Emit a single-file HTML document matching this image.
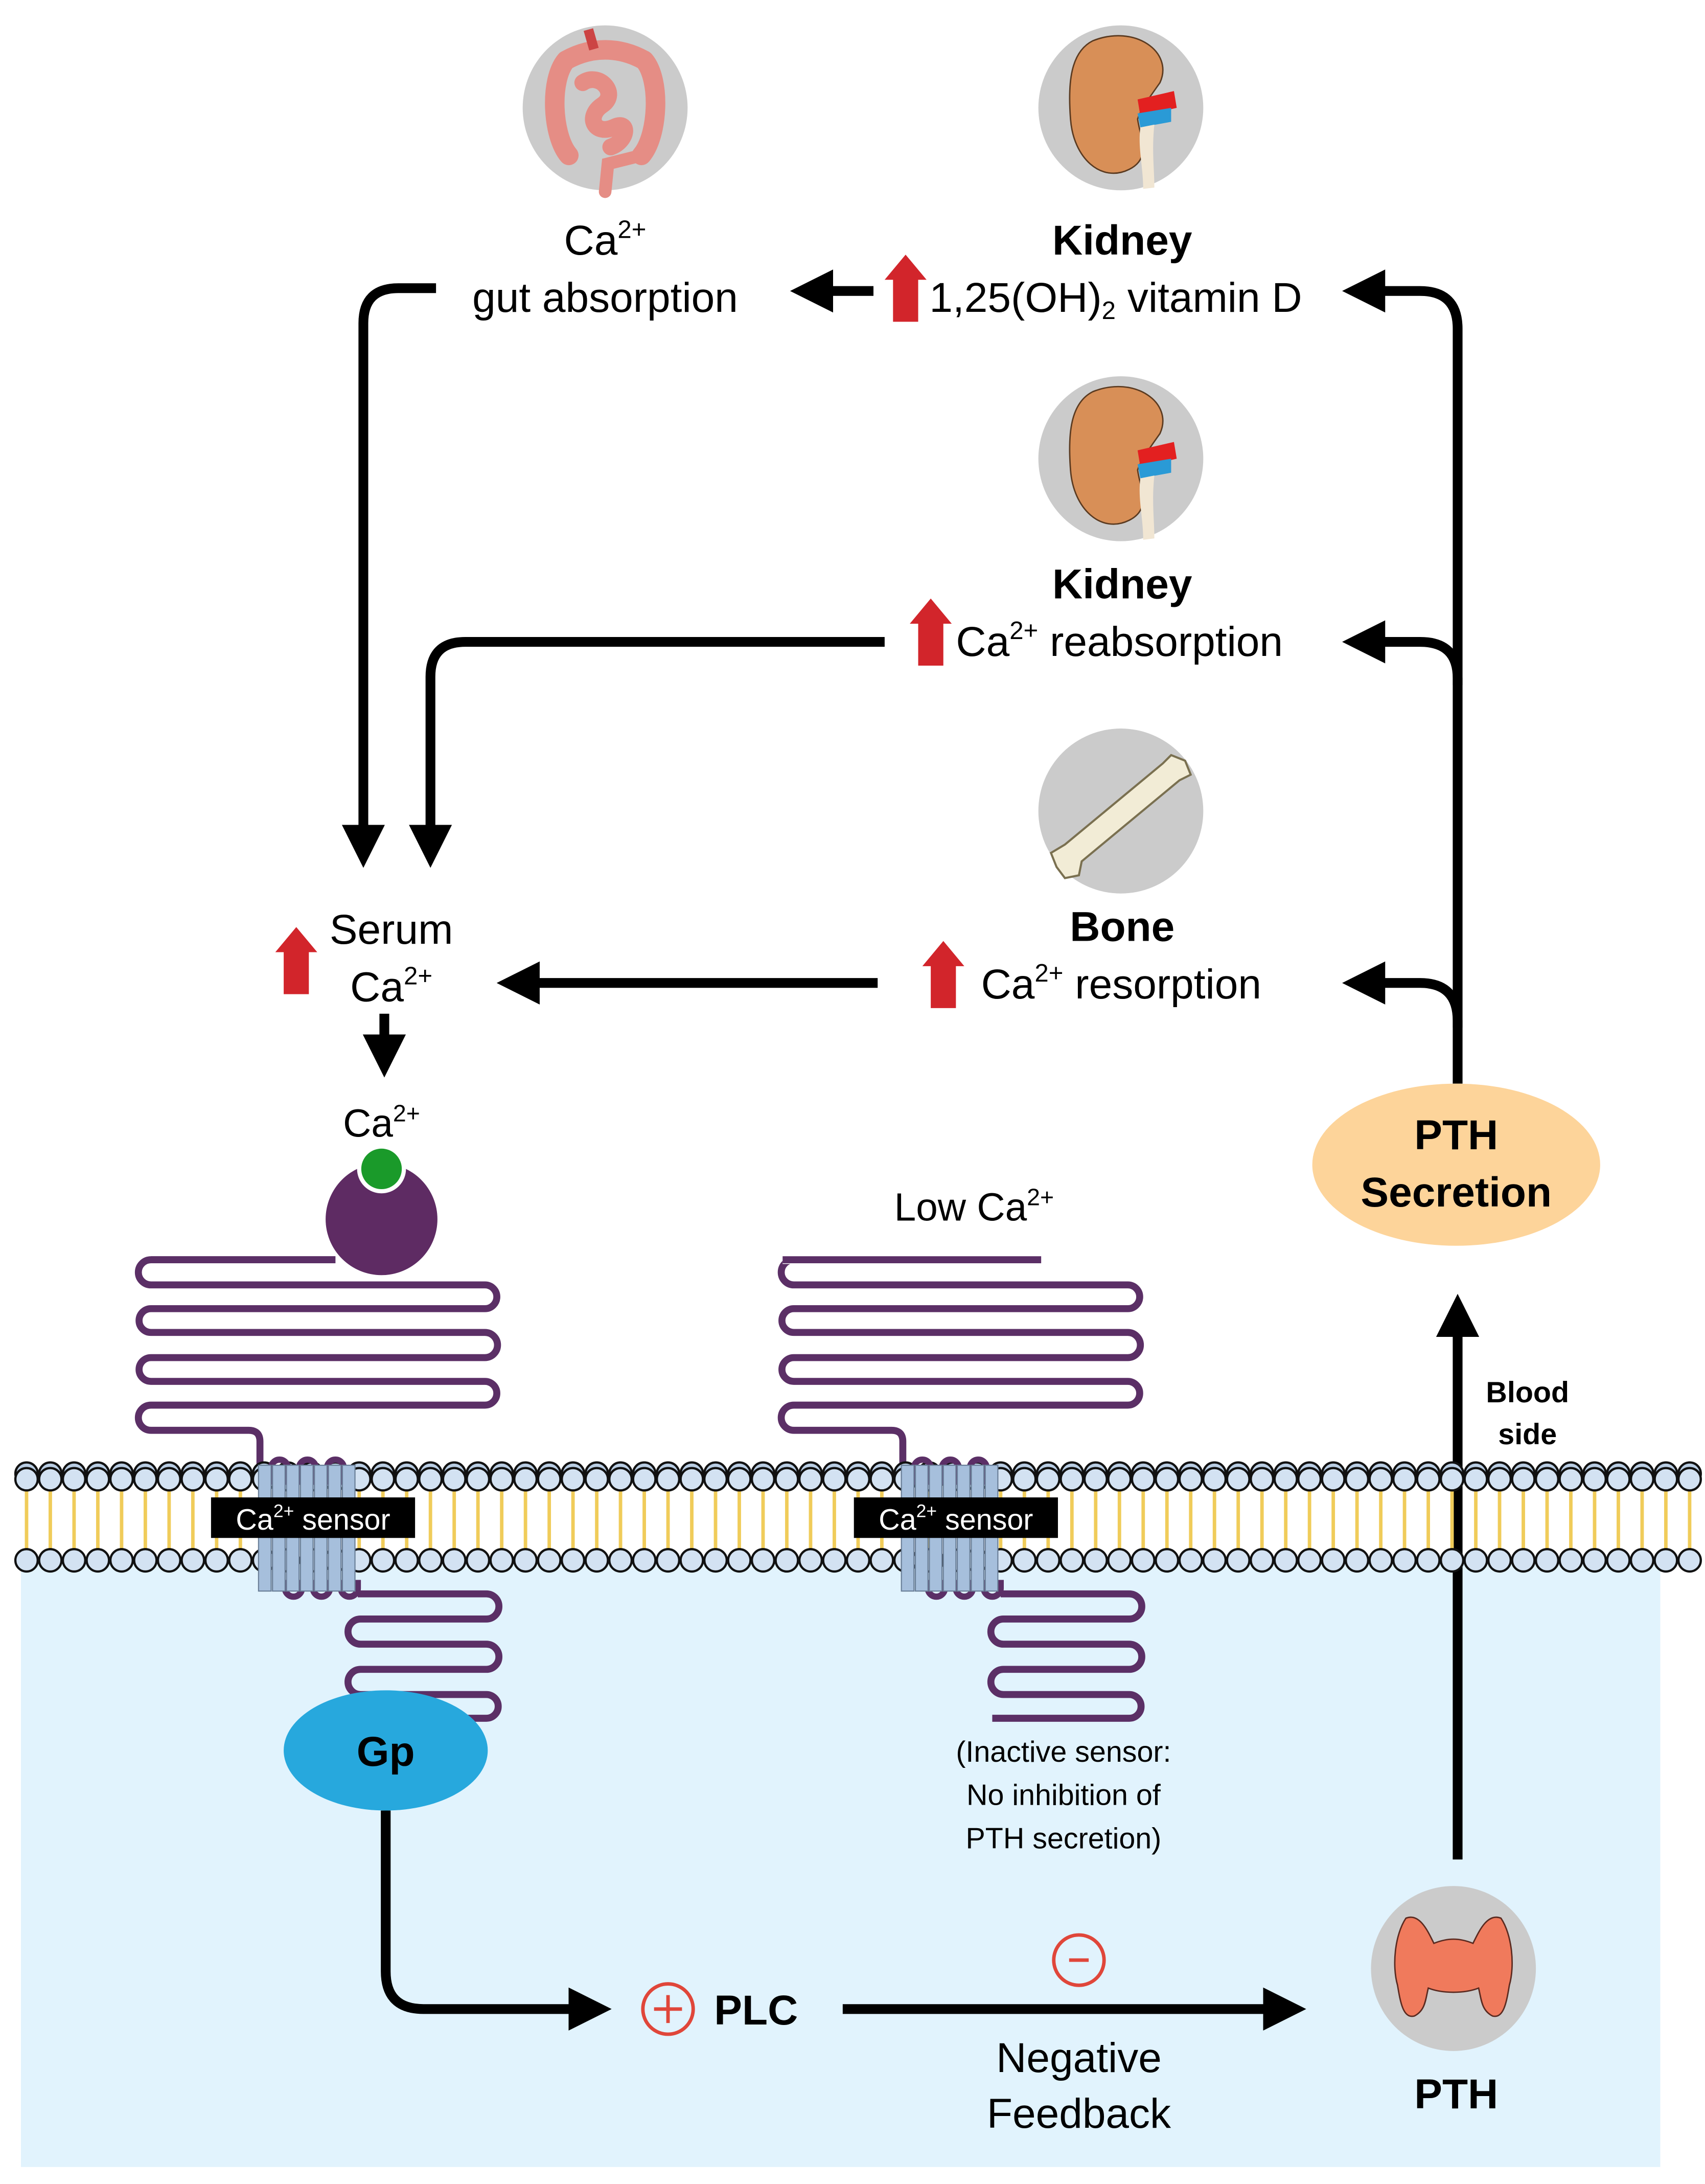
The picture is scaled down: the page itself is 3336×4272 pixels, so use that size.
<!DOCTYPE html>
<html><head><meta charset="utf-8"><style>
html,body{margin:0;padding:0;background:#fff}
svg{display:block}
text{font-family:"Liberation Sans",Arial,sans-serif}
</style></head><body>
<svg id="s" width="3336" height="4272" viewBox="0 0 1220 1562" xmlns="http://www.w3.org/2000/svg">
<defs>
<marker id="ah" viewBox="0 0 10 10" refX="2" refY="5" markerWidth="4.4" markerHeight="4.4" orient="auto" markerUnits="strokeWidth"><path d="M0,0 L10,5 L0,10 z" fill="#000"/></marker>
<g id="redup"><path d="M-9,0 V-30 H-15 L0,-48 L15,-30 H9 V0 Z" fill="#d2252b"/></g>
<g id="kidney">
<circle r="59" fill="#cbcbcb"/>
<path d="M-20,-48 C10,-60 38,-40 28,-18 C18,-4 14,2 12,8 C14,22 22,36 6,44 C-14,54 -34,36 -36,8 C-38,-18 -36,-40 -20,-48Z" fill="#d88f57" stroke="#5a3a20" stroke-width="1"/>
<path d="M12,-6 L38,-12 L40,0 L14,6Z" fill="#e32020"/>
<path d="M12,4 L36,0 L36,10 L14,14Z" fill="#2a9ad6"/>
<path d="M14,14 L24,12 C22,30 24,44 24,57 L16,58 C16,42 12,28 14,14Z" fill="#f1e6d3"/>
</g>
<g id="bone"><circle r="59" fill="#cbcbcb"/>
<path d="M36,-40 L46,-36 L50,-26 L42,-22 L-28,36 L-30,46 L-40,48 L-46,40 L-50,30 L-40,24 L30,-34 Z" fill="#f2ecd6" stroke="#7a7050" stroke-width="1.5"/></g>
</defs>
<rect x="0" y="0" width="1220" height="1562" fill="#fff"/>
<!-- blue cytoplasm -->
<rect x="15" y="1117" width="1173" height="433" fill="#e1f3fd"/>

<!-- icons -->
<g transform="translate(433,77)"><circle r="59" fill="#cbcbcb"/>
<path d="M-28,-34 C-40,-20 -38,20 -26,34 M28,-34 C40,-20 38,20 26,34 M-28,-34 C-10,-44 10,-44 28,-34" fill="none" stroke="#e58d85" stroke-width="14" stroke-linecap="round"/>
<path d="M-16,-18 C-4,-26 10,-10 -2,-2 C-14,6 -8,20 6,14 C18,8 16,24 4,28" fill="none" stroke="#e58d85" stroke-width="12" stroke-linecap="round"/>
<path d="M26,34 L2,40 L0,60" fill="none" stroke="#e58d85" stroke-width="9" stroke-linecap="round"/>
<path d="M-12,-56 L-8,-42" stroke="#c44" stroke-width="7"/>
</g>
<use href="#kidney" x="802" y="77"/>
<use href="#kidney" x="802" y="328"/>
<use href="#bone" x="802" y="580"/>
<g transform="translate(1040,1408)"><circle r="59" fill="#cbcbcb"/>
<path d="M-34,-36 C-24,-40 -18,-26 -14,-18 C-4,-22 4,-22 14,-18 C18,-26 24,-40 34,-36 C42,-24 44,-2 40,12 C38,24 36,36 28,34 C20,30 20,22 18,14 C8,18 -8,18 -18,14 C-20,22 -20,30 -28,34 C-36,36 -38,24 -40,12 C-44,-2 -42,-24 -34,-36Z" fill="#f07a5c" stroke="#5a2a20" stroke-width="1"/></g>

<!-- texts top -->
<text x="433" y="182" font-size="30" text-anchor="middle">Ca<tspan font-size="18" dy="-12">2+</tspan></text>
<text x="433" y="223" font-size="30" text-anchor="middle">gut absorption</text>
<text x="803" y="182" font-size="30" font-weight="bold" text-anchor="middle">Kidney</text>
<text x="665" y="223" font-size="30">1,25(OH)<tspan font-size="18" dy="5">2</tspan><tspan dy="-5"> vitamin D</tspan></text>
<use href="#redup" x="648" y="230"/>
<text x="803" y="428" font-size="30" font-weight="bold" text-anchor="middle">Kidney</text>
<text x="684" y="469" font-size="30">Ca<tspan font-size="18" dy="-12">2+</tspan><tspan dy="12"> reabsorption</tspan></text>
<use href="#redup" x="666" y="476"/>
<text x="803" y="673" font-size="30" font-weight="bold" text-anchor="middle">Bone</text>
<text x="702" y="714" font-size="30">Ca<tspan font-size="18" dy="-12">2+</tspan><tspan dy="12"> resorption</tspan></text>
<use href="#redup" x="675" y="721"/>
<text x="280" y="675" font-size="30" text-anchor="middle">Serum</text>
<text x="280" y="716" font-size="30" text-anchor="middle">Ca<tspan font-size="18" dy="-12">2+</tspan></text>
<use href="#redup" x="212" y="711"/>

<!-- arrows -->
<g fill="none" stroke="#000" stroke-width="7">
<path d="M625,208 H590" marker-end="url(#ah)"/>
<path d="M1043,775 V235 Q1043,208 1016,208 H985" marker-end="url(#ah)"/>
<path d="M1043,490 V485 Q1043,459 1016,459 H985" marker-end="url(#ah)"/>
<path d="M1043,735 V730 Q1043,703 1016,703 H985" marker-end="url(#ah)"/>
<path d="M312,206 H285 Q260,206 260,231 V596" marker-end="url(#ah)"/>
<path d="M633,459 H333 Q308,459 308,484 V596" marker-end="url(#ah)"/>
<path d="M628,703 H380" marker-end="url(#ah)"/>
<path d="M275,725 V746" marker-end="url(#ah)"/>
<path d="M276,1295 V1410 Q276,1437 303,1437 H413" marker-end="url(#ah)"/>
<path d="M603,1437 H910" marker-end="url(#ah)"/>
<path d="M1043,1330 V950" marker-end="url(#ah)"/>
</g>

<text x="273" y="813" font-size="28" text-anchor="middle">Ca<tspan font-size="17" dy="-11">2+</tspan></text>
<text x="697" y="873" font-size="28" text-anchor="middle">Low Ca<tspan font-size="17" dy="-11">2+</tspan></text>

<!-- receptors extracellular -->
<g fill="none" stroke="#5b2f66" stroke-width="5" stroke-linejoin="round">
<path id="ext" d="M240,901 H108 A9,9 0 0 0 108,919 H347 A8.5,8.5 0 0 1 347,936 H108 A8.5,8.5 0 0 0 108,953 H347 A9,9 0 0 1 347,971 H108 A8.5,8.5 0 0 0 108,988 H347 A8.5,8.5 0 0 1 347,1005 H108 A9,9 0 0 0 108,1023 H178 Q186,1023 186,1031 V1060"/>
<path d="M240,901 H108" transform="translate(0,0)"/>
<use href="#ext" x="460"/>
<path d="M256,1140 H348 A9,9 0 0 1 348,1158 H258 A9,9 0 0 0 258,1176 H348 A9,9 0 0 1 348,1194 H258 A9,9 0 0 0 258,1212 H348 A8.5,8.5 0 0 1 348,1229 H250"/>
<path d="M716,1140 H808 A9,9 0 0 1 808,1158 H718 A9,9 0 0 0 718,1176 H808 A9,9 0 0 1 808,1194 H718 A9,9 0 0 0 718,1212 H808 A8.5,8.5 0 0 1 808,1229 H710"/>
</g>
<rect x="560" y="898" width="185" height="6" fill="#fff"/>
<path d="M560,901 H745" stroke="#5b2f66" stroke-width="5"/>
<path d="M568,901 H560" stroke="#fff" stroke-width="0"/>
<circle cx="273" cy="872" r="40" fill="#5e2b63"/>
<circle cx="273" cy="836" r="16" fill="#1a9a2a" stroke="#fff" stroke-width="3"/>

<g id="mem"></g>

<!-- Gp -->
<ellipse cx="276" cy="1252" rx="73" ry="43" fill="#27a8dd"/>
<text x="276" y="1263" font-size="30" font-weight="bold" text-anchor="middle">Gp</text>

<text x="761" y="1260" font-size="21" text-anchor="middle">(Inactive sensor:</text>
<text x="761" y="1291" font-size="21" text-anchor="middle">No inhibition of</text>
<text x="761" y="1322" font-size="21" text-anchor="middle">PTH secretion)</text>

<circle cx="478" cy="1437" r="18" fill="none" stroke="#e0463a" stroke-width="2.5"/>
<path d="M468,1437 H488 M478,1427 V1447" stroke="#e0463a" stroke-width="2.5"/>
<text x="541" y="1448" font-size="30" font-weight="bold" text-anchor="middle">PLC</text>
<circle cx="772" cy="1402" r="18" fill="none" stroke="#e0463a" stroke-width="2.5"/>
<path d="M765,1402 H779" stroke="#e0463a" stroke-width="2.5"/>
<text x="772" y="1482" font-size="30" text-anchor="middle">Negative</text>
<text x="772" y="1522" font-size="30" text-anchor="middle">Feedback</text>
<text x="1042" y="1508" font-size="30" font-weight="bold" text-anchor="middle">PTH</text>

<text x="1093" y="1003" font-size="21" font-weight="bold" text-anchor="middle">Blood</text>
<text x="1093" y="1033" font-size="21" font-weight="bold" text-anchor="middle">side</text>

<ellipse cx="1042" cy="833" rx="103" ry="58" fill="#fdd49a"/>
<text x="1042" y="822" font-size="30" font-weight="bold" text-anchor="middle">PTH</text>
<text x="1042" y="863" font-size="30" font-weight="bold" text-anchor="middle">Secretion</text>
</svg>
<script>
(function(){
var NS="http://www.w3.org/2000/svg",g=document.getElementById("mem"),h="";
for(var x=19;x<1210;x+=17){
 h+='<line x1="'+x+'" y1="1066" x2="'+x+'" y2="1108" stroke="#f0cc5a" stroke-width="2.5"/>';
}
for(var x=19;x<1210;x+=17){
 h+='<circle cx="'+x+'" cy="1054" r="8" fill="#b9cde3" stroke="#111" stroke-width="1.6"/>';
}
for(var x=19;x<1210;x+=17){
 h+='<circle cx="'+x+'" cy="1058" r="8" fill="#d3e2f2" stroke="#111" stroke-width="1.6"/>';
 h+='<circle cx="'+x+'" cy="1116" r="8" fill="#d3e2f2" stroke="#111" stroke-width="1.6"/>';
}
[185,645].forEach(function(x0){
 for(var i=0;i<3;i++){var cx=x0+15+i*20;
  h+='<path d="M'+(cx-6)+',1062 V1050 A6,6 0 0 1 '+(cx+6)+',1050 V1062" fill="none" stroke="#5b2f66" stroke-width="4.5"/>';
  h+='<path d="M'+(cx+4)+',1130 V1136 A6,6 0 0 0 '+(cx+16)+',1136 V1130" fill="none" stroke="#5b2f66" stroke-width="4.5"/>';
 }
 for(var j=0;j<7;j++){h+='<rect x="'+(x0+j*10)+'" y="1048" width="9" height="90" fill="#a6bfdc" stroke="#6a7f98" stroke-width="0.8"/>';}
 h+='<rect x="'+(x0-34)+'" y="1071" width="146" height="29" fill="#000"/>';
 h+='<text x="'+(x0+39)+'" y="1094" font-size="21" fill="#fff" text-anchor="middle" font-family="Liberation Sans, sans-serif">Ca<tspan font-size="13" dy="-9">2+</tspan><tspan dy="9"> sensor</tspan></text>';
});
g.innerHTML=h;
})();
</script>
</body></html>
